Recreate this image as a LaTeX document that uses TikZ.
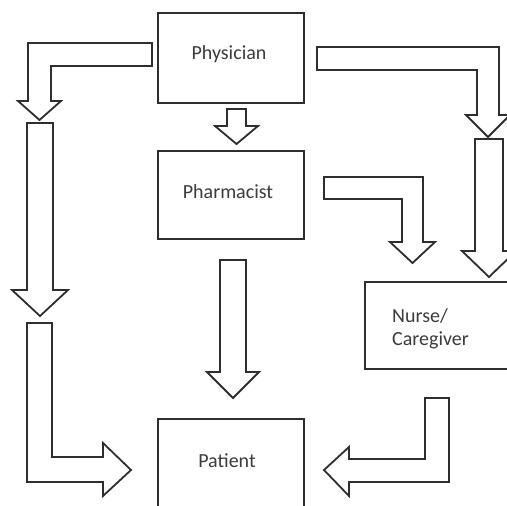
\documentclass[tikz,border=0pt]{standalone}
\usepackage{fontspec}
\setmainfont{Carlito}
\definecolor{lineclr}{HTML}{2E2E2E}
\definecolor{textclr}{HTML}{3C3C3C}
\begin{document}
\begin{tikzpicture}[x=1pt,y=-1pt,
  boxnode/.style={draw=lineclr,line width=1.8pt,fill=white,inner sep=0pt},
  lbl/.style={text=textclr,font=\fontsize{20}{23}\selectfont,inner sep=0pt},
  blockarrow/.style={draw=lineclr,line width=1.8pt,fill=white,line join=miter}]
\useasboundingbox (0,0) rectangle (507,506);
\clip (0,0) rectangle (507,506);
\fill[white] (0,0) rectangle (507,506);
% boxes
\node[boxnode,minimum width=146pt,minimum height=90pt] (phys) at (231,58) {};
\node[boxnode,minimum width=146pt,minimum height=88pt] (pharm) at (231,195) {};
\node[boxnode,minimum width=155pt,minimum height=87pt] (nurse) at (442.5,325.5) {};
\node[boxnode,minimum width=146pt,minimum height=111pt] (pat) at (231,474.5) {};
% labels
\node[lbl] (physl) at (229,54) {Physician};
\node[lbl] (pharml) at (228,192) {Pharmacist};
\node[lbl,align=left,anchor=west] (nursel) at (392,328.5) {Nurse/\\Caregiver};
\node[lbl] (patl) at (227,461) {Patient};
% block arrows
% Physician -> left (L down)
\draw[blockarrow] (152,43) -- (28,43) -- (28,101) -- (18,101) -- (39.5,120) -- (61,101) -- (51,101) -- (51,66) -- (152,66) -- cycle;
% left long shaft
\draw[blockarrow] (27,123) -- (53,123) -- (53,290) -- (68,290) -- (40,316) -- (12,290) -- (27,290) -- cycle;
% left L to Patient
\draw[blockarrow] (27,323) -- (52,323) -- (52,457) -- (103,457) -- (103,443) -- (131,470) -- (103,496) -- (103,482) -- (27,482) -- cycle;
% Physician -> Pharmacist
\draw[blockarrow] (227,109) -- (246,109) -- (246,126) -- (258,126) -- (236.5,144) -- (215,126) -- (227,126) -- cycle;
% Pharmacist -> Patient
\draw[blockarrow] (220,260) -- (246,260) -- (246,372) -- (259,372) -- (233,398) -- (207,372) -- (220,372) -- cycle;
% Physician -> right (L down)
\draw[blockarrow] (317,47) -- (499,47) -- (499,115) -- (510,115) -- (488,137) -- (466,115) -- (477,115) -- (477,70) -- (317,70) -- cycle;
% right long shaft
\draw[blockarrow] (475,139) -- (503,139) -- (503,251) -- (516,251) -- (489,277) -- (462,251) -- (475,251) -- cycle;
% Pharmacist -> Nurse
\draw[blockarrow] (324,177) -- (423,177) -- (423,242) -- (435,242) -- (412.5,263) -- (390,242) -- (402,242) -- (402,199) -- (324,199) -- cycle;
% Nurse -> Patient
\draw[blockarrow] (449,398) -- (449,482) -- (349,482) -- (349,496) -- (324,470) -- (349,447) -- (349,459) -- (425,459) -- (425,398) -- cycle;
\end{tikzpicture}
\end{document}
